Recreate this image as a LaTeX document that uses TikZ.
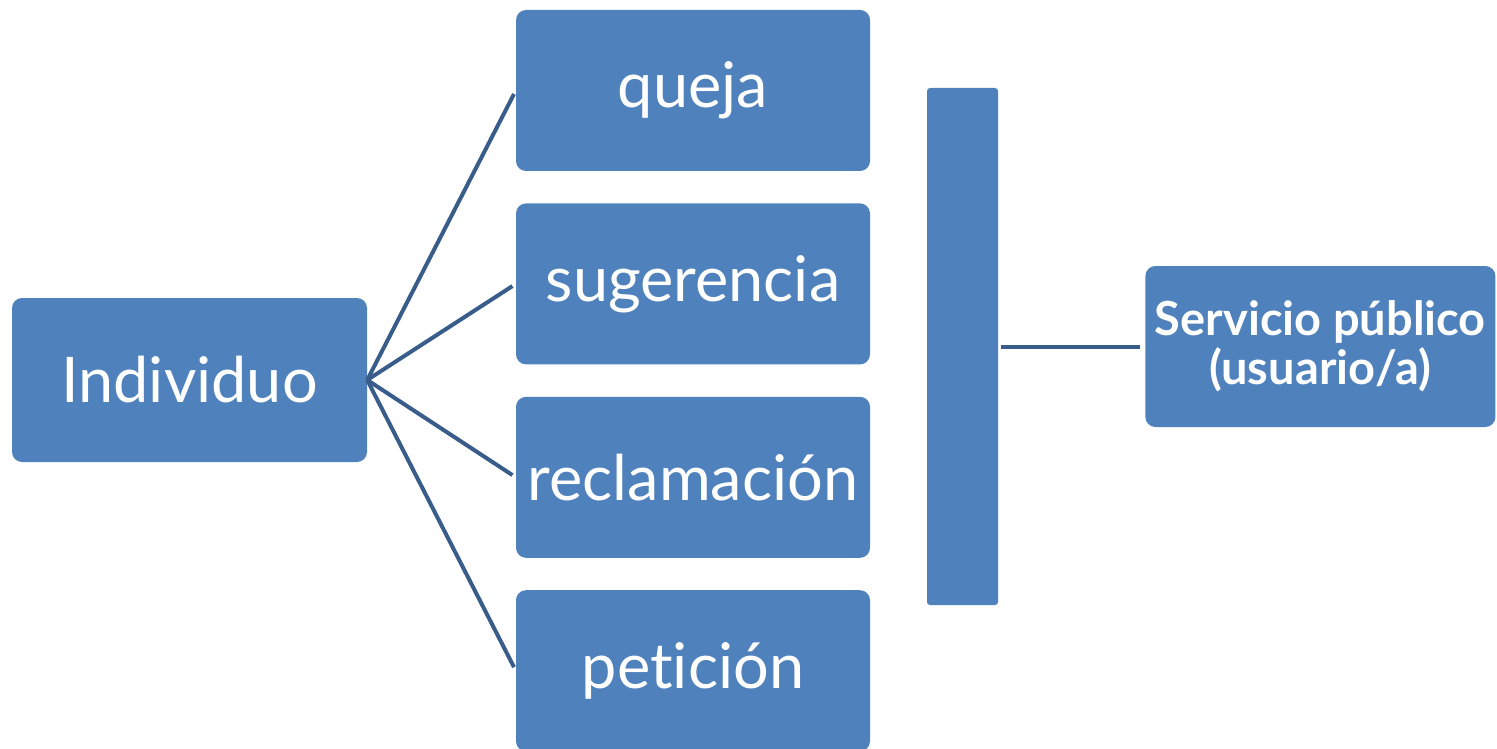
\documentclass[tikz,border=0pt]{standalone}
\usepackage{fontspec}
\setmainfont{Lato}[Ligatures=NoCommon]
\usepackage{xcolor}
\usetikzlibrary{positioning}

\definecolor{boxblue}{HTML}{4F81BD}
\definecolor{lineblue}{HTML}{385D8A}

\begin{document}
\begin{tikzpicture}[
  x=1pt, y=1pt,
  box/.style={fill=boxblue, rectangle, rounded corners=10pt, text=white, align=center, minimum width=354pt, minimum height=161pt, inner sep=0pt, font=\fontsize{63}{68}\selectfont},
  bar/.style={fill=boxblue, rectangle, rounded corners=3pt, minimum width=71pt, minimum height=517pt, inner sep=0pt},
  link/.style={draw=lineblue, line width=4pt}
]
\useasboundingbox (0,0) rectangle (1497,-749);

% Left box
\node[box, minimum width=355pt, minimum height=164pt] (Individuo) at (189.5,-380) {Individuo};

% Middle column
\node[box] (Queja) at (693,-90.5) {queja};
\node[box, below=32pt of Queja] (Sugerencia) {sugerencia};
\node[box, below=32pt of Sugerencia] (Reclamacion) {reclamación};
\node[box, below=32pt of Reclamacion] (Peticion) {petición};

% Bar and right box
\node[bar] (Bar) at (962.5,-346.5) {};
\node[box, right=147pt of Bar, minimum width=350pt, font=\fontsize{47}{49}\selectfont\bfseries] (Servicio) {Servicio público\\(usuario/a)};

% Connectors
\foreach \n in {Queja, Sugerencia, Reclamacion, Peticion}
  \draw[link, shorten >=4pt] (Individuo.east) -- (\n.west);
\draw[link, shorten <=3pt, shorten >=5pt] (Bar.east) -- (Servicio.west);

\end{tikzpicture}
\end{document}
